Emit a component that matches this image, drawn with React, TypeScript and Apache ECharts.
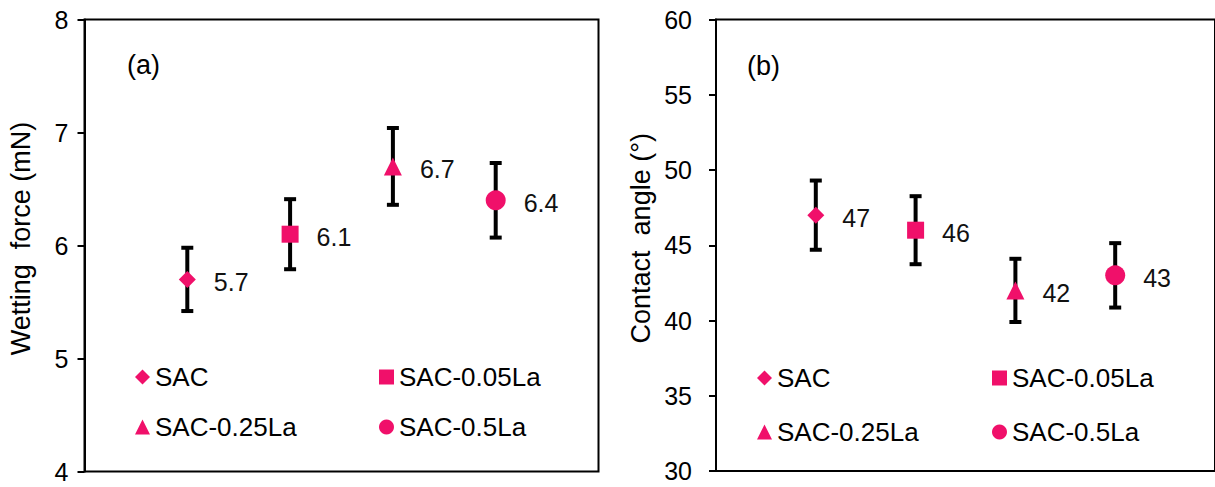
import React, { useEffect, useRef } from "react";
import * as echarts from "echarts";

const samples = ["SAC", "SAC-0.05La", "SAC-0.25La", "SAC-0.5La"];
const symbols = ["diamond", "rect", "triangle", "circle"];
const symbolSizes = [17, 17, 18, 20];
const xPositions = [1, 2, 3, 4];

const wettingForce = [5.7, 6.1, 6.7, 6.4];
const wettingErr = [0.28, 0.31, 0.34, 0.33];
const contactAngle = [47, 46, 42, 43];
const contactErr = [2.3, 2.26, 2.1, 2.14];

const leftTicks = [4, 5, 6, 7, 8];
const rightTicks = [30, 35, 40, 45, 50, 55, 60];

const PINK = "#F0106A";
const FONT = "'Liberation Sans', Arial, sans-serif";

export default function App() {
  const ref = useRef<HTMLDivElement>(null);
  useEffect(() => {
    document.body.style.margin = "0";
    if (!ref.current) return;
    const chart = echarts.init(ref.current, null, { renderer: "svg" });

    const errRender = (params: any, api: any) => {
      const x = api.value(0);
      const lo = api.value(1);
      const hi = api.value(2);
      const pLo = api.coord([x, lo]);
      const pHi = api.coord([x, hi]);
      const hw = 6;
      const st = { stroke: "#000", lineWidth: 4 };
      return {
        type: "group",
        children: [
          { type: "line", shape: { x1: pLo[0], y1: pLo[1], x2: pHi[0], y2: pHi[1] }, style: st },
          { type: "line", shape: { x1: pLo[0] - hw, y1: pLo[1], x2: pLo[0] + hw, y2: pLo[1] }, style: st },
          { type: "line", shape: { x1: pHi[0] - hw, y1: pHi[1], x2: pHi[0] + hw, y2: pHi[1] }, style: st },
        ],
      };
    };

    const series: any[] = [];
    const panels = [
      { vals: wettingForce, errs: wettingErr },
      { vals: contactAngle, errs: contactErr },
    ];
    panels.forEach((p, gi) => {
      series.push({
        type: "custom",
        xAxisIndex: gi,
        yAxisIndex: gi,
        renderItem: errRender,
        encode: { x: 0, y: [1, 2] },
        data: p.vals.map((v, i) => [xPositions[i], v - p.errs[i], v + p.errs[i]]),
        z: 2,
        silent: true,
      });
      samples.forEach((name, i) => {
        series.push({
          type: "scatter",
          name,
          xAxisIndex: gi,
          yAxisIndex: gi,
          symbol: symbols[i],
          symbolSize: symbolSizes[i],
          itemStyle: { color: PINK, opacity: 1 },
          z: 5,
          label: {
            show: true,
            position: "right",
            distance: 18,
            offset: [0, 3],
            color: "#111",
            fontSize: 25,
            fontFamily: FONT,
            formatter: (q: any) => String(q.value[1]),
          },
          data: [[xPositions[i], p.vals[i]]],
        });
      });
    });

    const legendPos = [
      { name: samples[0], left: 135, top: 364 },
      { name: samples[1], left: 379, top: 364 },
      { name: samples[2], left: 135, top: 414 },
      { name: samples[3], left: 379, top: 414 },
      { name: samples[0], left: 757, top: 365 },
      { name: samples[1], left: 992, top: 365 },
      { name: samples[2], left: 757, top: 419 },
      { name: samples[3], left: 992, top: 419 },
    ];

    const yAxisBase = (gi: number, min: number, max: number, interval: number, name: string, margin: number, gap: number) => ({
      type: "value",
      gridIndex: gi,
      min,
      max,
      interval,
      name,
      nameLocation: "middle",
      nameGap: gap,
      nameRotate: 90,
      nameTextStyle: { color: "#000", fontSize: 27, fontFamily: FONT, padding: [0, 0, 0, 14] },
      axisLine: { show: true, lineStyle: { color: "#000", width: 2 } },
      axisTick: { show: true, inside: false, length: 7, lineStyle: { color: "#000", width: 2 } },
      axisLabel: { color: "#000", fontSize: 25, fontFamily: FONT, margin },
      splitLine: { show: false },
    });

    chart.setOption({
      animation: false,
      backgroundColor: "#fff",
      textStyle: { fontFamily: FONT },
      title: [
        { text: "(a)", left: 122, top: 46, textStyle: { fontSize: 27, fontWeight: "normal", color: "#000", fontFamily: FONT } },
        { text: "(b)", left: 742, top: 47, textStyle: { fontSize: 27, fontWeight: "normal", color: "#000", fontFamily: FONT } },
      ],
      grid: [
        { left: 84.5, top: 19.5, width: 514, height: 452, show: true, borderColor: "#000", borderWidth: 2, backgroundColor: "transparent" },
        { left: 716, top: 19.5, width: 503.5, height: 451.5, show: true, borderColor: "#000", borderWidth: 2, backgroundColor: "transparent" },
      ],
      xAxis: [0, 1].map((gi) => ({
        type: "value",
        gridIndex: gi,
        min: 0,
        max: 5,
        show: false,
      })),
      yAxis: [
        yAxisBase(0, leftTicks[0], leftTicks[leftTicks.length - 1], 1, "Wetting  force (mN)", 16, 50),
        yAxisBase(1, rightTicks[0], rightTicks[rightTicks.length - 1], 5, "Contact  angle (°)", 24, 62),
      ],
      legend: legendPos.map((l) => ({
        data: [l.name],
        left: l.left,
        top: l.top,
        padding: 0,
        itemWidth: 15,
        itemHeight: 15,
        selectedMode: false,
        textStyle: { color: "#000", fontSize: 26, fontFamily: FONT },
      })),
      series,
    });
    return () => chart.dispose();
  }, []);
  return <div ref={ref} style={{ width: 1215, height: 487 }} />;
}
